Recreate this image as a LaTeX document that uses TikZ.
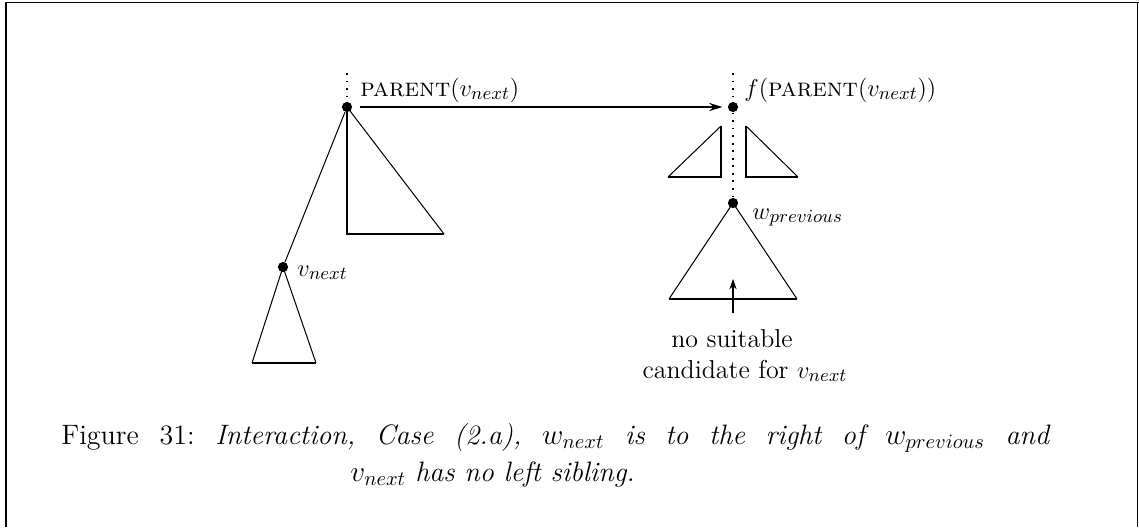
\documentclass[tikz,border=0pt]{standalone}
\usepackage{tikz}
\usetikzlibrary{arrows.meta, positioning, calc}

\begin{document}
\begin{tikzpicture}[x=0.49pt, y=-0.49pt,
    dot/.style={circle, fill=black, inner sep=0pt, minimum size=5pt},
    thinline/.style={line width=0.5pt},
    thickline/.style={line width=1.4pt},
    dotline/.style={line width=0.9pt, dash pattern=on 0.9pt off 2.8pt},
    lbl/.style={inner sep=0pt, font=\fontsize{12.7}{15.2}\selectfont},
    captext/.style={inner sep=0pt, font=\fontsize{13.75}{16.5}\selectfont}]
    \useasboundingbox (0,0) rectangle (1139,527);
    % Frame
    \draw[line width=1.2pt] (6,527) -- (6,2.5);
    \draw[line width=0.8pt] (5.4,2.5) -- (1139,2.5);
    \draw[line width=0.7pt] (1137.5,2.5) -- (1137.5,527);

    % Tree nodes
    \node[dot] (parent) at (347,107) {};
    \node[dot] (fnode) at (733,107) {};
    \node[dot] (wprev) at (733,203) {};
    \node[dot] (vnext) at (283,267) {};
    \coordinate (ptop) at (347,73);
    \coordinate (ftop) at (733,73);

    % Dotted paths to the root
    \draw[dotline] (ptop) -- (parent);
    \draw[dotline] (ftop) -- (fnode) -- (wprev);

    % Subtrees of parent
    \draw[thinline] (parent) -- (vnext);
    \draw[thinline] (parent.center) -- (444,234);
    \draw[thickline] (347,108) -- (347,234) -- (444,234);
    \draw[thinline] (252,363) -- (vnext.center) -- (316,363);
    \draw[thickline] (252,363) -- (316,363);

    % Mapping arrow
    \draw[line width=0.6pt, -{Stealth[length=6.5pt, width=4pt]}, shorten <=3.5pt, shorten >=2.5pt] (parent) -- (fnode);

    % Subtrees of f
    \draw[thinline] (668,177) -- (721,126);
    \draw[thickline] (721,126) -- (721,177) -- (668,177);
    \draw[thinline] (746,126) -- (798,177);
    \draw[thickline] (746,126) -- (746,177) -- (798,177);
    \draw[thinline] (669,299) -- (wprev.center) -- (797,299);
    \draw[thickline] (669,299) -- (797,299);

    % Candidate arrow
    \coordinate (arrbot) at (733,313);
    \coordinate (arrtop) at (733,279);
    \draw[thickline, -{Stealth[length=5pt, width=3.5pt]}] (arrbot) -- (arrtop);

    % Labels
    \node[lbl, anchor=base west] (parentlbl) at (360,96) {\textsc{parent}$(v_{next})$};
    \node[lbl, anchor=base west] (flbl) at (744,96) {$f($\textsc{parent}$(v_{next}))$};
    \node[lbl, anchor=base west] (wlbl) at (752,219) {$w_{previous}$};
    \node[lbl, anchor=base west] (vlbl) at (297,276) {$v_{next}$};
    \node[lbl, anchor=base] (nosuit) at (732,347) {no suitable};
    \node[lbl, anchor=base] (cand) at (745,378) {candidate for $v_{next}$};

    % Caption
    \node[captext, anchor=base west] (capone) at (61,444) {\hbox to 484pt{Figure\hfill 31:\hfill\itshape Interaction,\hfill Case\hfill (2.a),\hfill $w_{next}$\hfill is\hfill to\hfill the\hfill right\hfill of\hfill $w_{previous}$\hfill and}};
    \node[captext, anchor=base west] (captwo) at (350,481) {$v_{next}$ \textit{has no left sibling.}};
\end{tikzpicture}
\end{document}
